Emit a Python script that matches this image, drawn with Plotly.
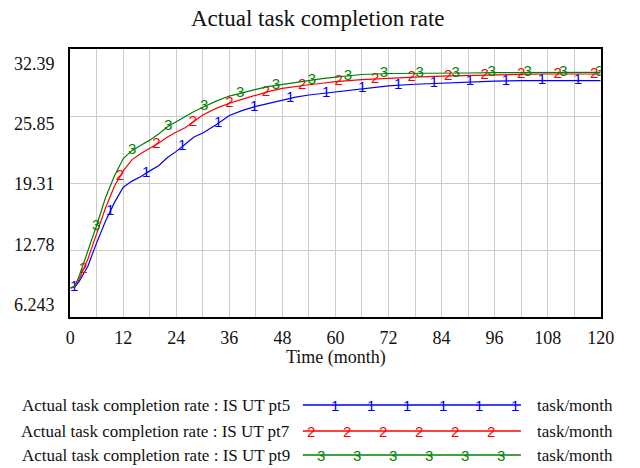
import numpy as np
import plotly.graph_objects as go

# ---------------- data ----------------
chart_title = "Actual task completion rate"
x_title = "Time (month)"
unit_label = "task/month"
series_names = [
    "Actual task completion rate : IS UT pt5",
    "Actual task completion rate : IS UT pt7",
    "Actual task completion rate : IS UT pt9",
]
series_tags = ["1", "2", "3"]
series_colors = ["#0000ff", "#ff0000", "#008000"]

time = [0, 1, 2, 4, 6, 8, 10, 12, 14, 16, 18, 20, 22, 24, 26, 28, 30, 33, 36, 39, 42,
        45, 48, 51, 54, 57, 60, 66, 72, 78, 84, 90, 96, 102, 108, 114, 120]
rate_pt5 = [9.07, 9.15, 9.7, 11.2, 13.5, 15.6, 17.4, 18.9, 19.5, 19.95, 20.5, 21.0, 21.8,
            22.4, 23.1, 23.8, 24.2, 25.0, 25.9, 26.4, 26.8, 27.1, 27.4, 27.7, 27.9, 28.05,
            28.2, 28.55, 28.8, 28.95, 29.05, 29.2, 29.25, 29.3, 29.3, 29.3, 29.3]
rate_pt7 = [9.07, 9.2, 9.9, 11.9, 14.4, 16.9, 19.0, 20.5, 21.6, 22.2, 22.7, 23.2, 23.8,
            24.3, 24.7, 25.3, 25.95, 26.6, 27.1, 27.5, 27.9, 28.25, 28.55, 28.75, 28.9,
            29.05, 29.2, 29.4, 29.55, 29.65, 29.75, 29.82, 29.88, 29.92, 29.95, 29.95, 29.95]
rate_pt9 = [9.07, 9.25, 10.2, 12.6, 15.2, 17.9, 20.0, 21.7, 22.5, 23.0, 23.5, 24.1, 24.8,
            25.3, 25.8, 26.3, 26.7, 27.3, 27.8, 28.15, 28.45, 28.75, 28.95, 29.15, 29.35,
            29.5, 29.65, 29.9, 30.0, 30.0, 30.02, 30.05, 30.08, 30.1, 30.1, 30.1, 30.1]
series_values = [rate_pt5, rate_pt7, rate_pt9]

# times at which the series number tags are drawn on the lines
tag_start = [0.9, 3.0, 5.9]
tag_step = [8.14, 8.25, 8.13]
tag_count = 15

x_tick_vals = list(range(0, 121, 12))
x_tick_text = [str(v) for v in x_tick_vals]
y_tick_vals = [6.243, 12.78, 19.31, 25.85, 32.39]
y_tick_text = ["6.243", "12.78", "19.31", "25.85", "32.39"]

# ---------------- layout helpers (pixels -> paper) ----------------
W, H = 640, 468
PL, PR, PT, PB = 68, 613, 49, 317


def fx(px):
    return px / W


def fy(py):
    return 1 - py / H


SERIF = "Liberation Serif"
SANS = "Liberation Sans"
INK = "#111111"

fig = go.Figure()

for name, tag, color, vals, t0, dt in zip(series_names, series_tags, series_colors,
                                          series_values, tag_start, tag_step):
    fig.add_trace(go.Scatter(x=time, y=vals, mode="lines", name=name,
                             line=dict(color=color, width=1.2), showlegend=False,
                             hoverinfo="skip"))
    tt = [t0 + dt * k for k in range(tag_count)]
    tt = [t for t in tt if t <= 120]
    ty = list(np.interp(tt, time, vals))
    fig.add_trace(go.Scatter(x=tt, y=ty, mode="text", text=[tag] * len(tt),
                             textposition="middle center",
                             textfont=dict(family=SANS, size=15, color=color),
                             showlegend=False, hoverinfo="skip"))

fig.update_layout(
    width=W, height=H, autosize=False,
    margin=dict(l=0, r=0, t=0, b=0),
    paper_bgcolor="white", plot_bgcolor="white",
    showlegend=False,
    xaxis=dict(domain=[fx(PL), fx(PR)], range=[0, 120], tickvals=x_tick_vals,
               ticktext=x_tick_text, showgrid=True, gridcolor="#cccccc", gridwidth=1,
               minor=dict(dtick=6, tick0=0, showgrid=True, gridcolor="#cccccc", gridwidth=1),
               showline=True, linecolor="black", linewidth=2, mirror=True,
               ticks="", ticklabelstandoff=3, zeroline=False,
               tickfont=dict(family=SERIF, size=18, color=INK)),
    yaxis=dict(domain=[fy(PB), fy(PT)], range=[6.243, 32.39], tickvals=y_tick_vals,
               showticklabels=False, showgrid=True, gridcolor="#cccccc", gridwidth=1,
               showline=True, linecolor="black", linewidth=2, mirror=True,
               ticks="", zeroline=False),
)

annotations = []
# title
annotations.append(dict(x=fx(323), y=fy(19), xref="paper", yref="paper", text=chart_title,
                        showarrow=False, font=dict(family=SERIF, size=23, color=INK),
                        xanchor="center", yanchor="middle"))
# x-axis title
annotations.append(dict(x=fx(341), y=fy(357), xref="paper", yref="paper", text=x_title,
                        showarrow=False, font=dict(family=SERIF, size=18, color=INK),
                        xanchor="center", yanchor="middle"))
# y tick labels (evenly spread, inset like the original)
label_py = np.linspace(64, 305, len(y_tick_text))[::-1]
for txt, pyv in zip(y_tick_text, label_py):
    annotations.append(dict(x=fx(54), y=fy(pyv), xref="paper", yref="paper", text=txt,
                            showarrow=False, font=dict(family=SERIF, size=18, color=INK),
                            xanchor="right", yanchor="middle"))

# legend
rows_py = [405, 431, 455]
legend_tag_x0 = [340, 315, 326]
shapes = []
for name, tag, color, rpy, tx0 in zip(series_names, series_tags, series_colors,
                                      rows_py, legend_tag_x0):
    annotations.append(dict(x=fx(296), y=fy(rpy), xref="paper", yref="paper", text=name,
                            showarrow=False, font=dict(family=SERIF, size=17, color=INK),
                            xanchor="right", yanchor="middle"))
    annotations.append(dict(x=fx(545), y=fy(rpy), xref="paper", yref="paper", text=unit_label,
                            showarrow=False, font=dict(family=SERIF, size=17, color=INK),
                            xanchor="left", yanchor="middle"))
    shapes.append(dict(type="line", xref="paper", yref="paper", x0=fx(307), x1=fx(531),
                       y0=fy(rpy), y1=fy(rpy), line=dict(color=color, width=1.3)))
    for k in range(6):
        annotations.append(dict(x=fx(tx0 + 37 * k), y=fy(rpy), xref="paper", yref="paper",
                                text=tag, showarrow=False,
                                font=dict(family=SANS, size=15, color=color),
                                xanchor="center", yanchor="middle"))

fig.update_layout(annotations=annotations, shapes=shapes)
fig.write_html("out.html")
